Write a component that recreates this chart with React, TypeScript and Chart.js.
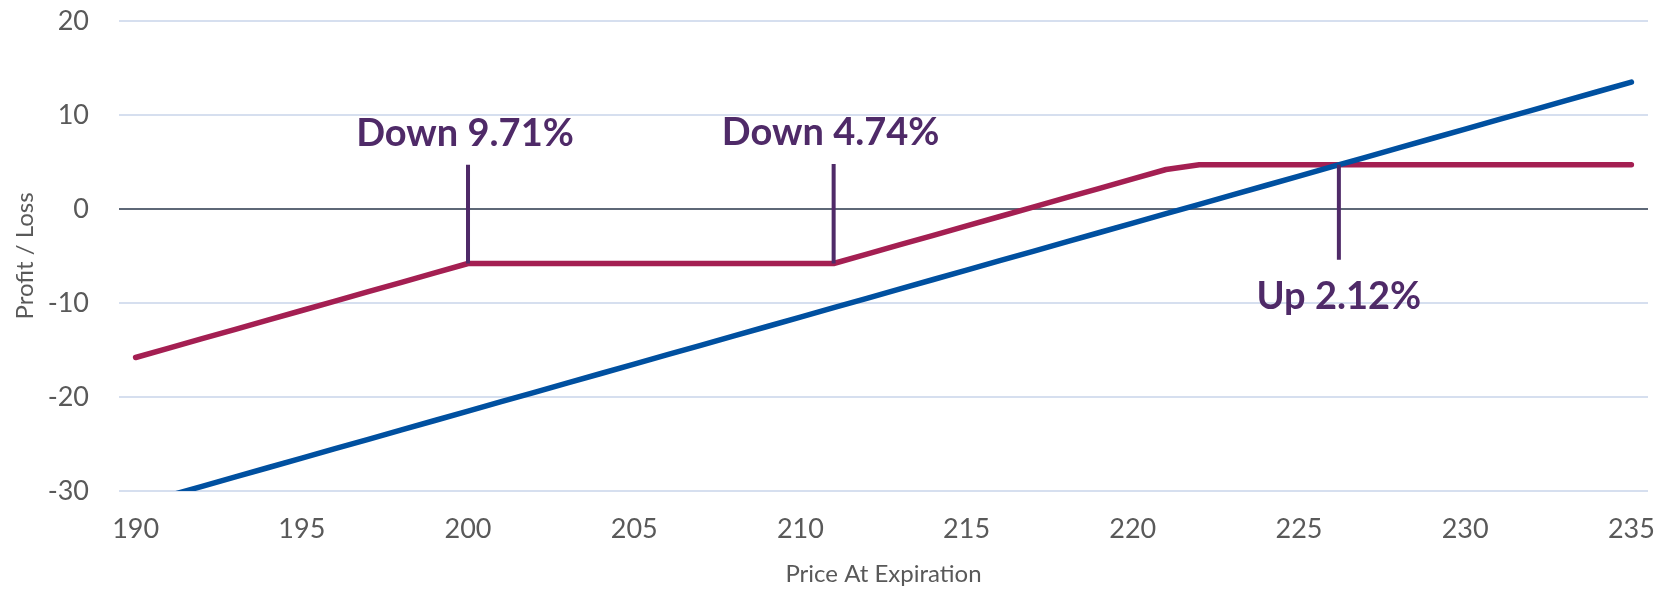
import React, { useEffect, useRef } from "react";
import { Chart, registerables } from "chart.js";

Chart.register(...registerables);

// Underlying price at expiration
const PRICES = [
  190, 191, 192, 193, 194, 195, 196, 197, 198, 199,
  200, 201, 202, 203, 204, 205, 206, 207, 208, 209,
  210, 211, 212, 213, 214, 215, 216, 217, 218, 219,
  220, 221, 222, 223, 224, 225, 226, 227, 228, 229,
  230, 231, 232, 233, 234, 235,
];

// Profit / loss of holding the stock outright
const STOCK_PL = [
  -31.5, -30.5, -29.5, -28.5, -27.5, -26.5, -25.5, -24.5, -23.5, -22.5,
  -21.5, -20.5, -19.5, -18.5, -17.5, -16.5, -15.5, -14.5, -13.5, -12.5,
  -11.5, -10.5, -9.5, -8.5, -7.5, -6.5, -5.5, -4.5, -3.5, -2.5,
  -1.5, -0.5, 0.5, 1.5, 2.5, 3.5, 4.5, 5.5, 6.5, 7.5,
  8.5, 9.5, 10.5, 11.5, 12.5, 13.5,
];

// Profit / loss of the hedged position
const HEDGED_PL = [
  -15.8, -14.8, -13.8, -12.8, -11.8, -10.8, -9.8, -8.8, -7.8, -6.8,
  -5.8, -5.8, -5.8, -5.8, -5.8, -5.8, -5.8, -5.8, -5.8, -5.8,
  -5.8, -5.8, -4.8, -3.8, -2.8, -1.8, -0.8, 0.2, 1.2, 2.2,
  3.2, 4.2, 4.7, 4.7, 4.7, 4.7, 4.7, 4.7, 4.7, 4.7,
  4.7, 4.7, 4.7, 4.7, 4.7, 4.7,
];

const X_TICKS = [190, 195, 200, 205, 210, 215, 220, 225, 230, 235];
const Y_MIN = -30;
const Y_MAX = 20;
const Y_STEP = 10;

// Break-even / strike markers
const MARKER_PRICES = [200, 211, 226.2];
const MARKER_TOPS = [4.7, 4.8, 4.7];
const MARKER_BOTTOMS = [-5.8, -5.8, -5.4];
const MARKER_LABELS = ["Down 9.71%", "Down 4.74%", "Up 2.12%"];
const MARKER_LABEL_ABOVE = [true, true, false];

const X_TITLE = "Price At Expiration";
const Y_TITLE = "Profit / Loss";

const FONT = "Lato, Carlito, Calibri, sans-serif";
const TEXT_GREY = "#595959";
const MARKER_PURPLE = "#4F2A68";
const HEDGED_RED = "#A41F52";
const STOCK_BLUE = "#0050A0";

const markerLabels = {
  id: "markerLabels",
  afterDatasetsDraw(chart: any) {
    const { ctx, scales } = chart;
    const xs = scales.x;
    const ys = scales.y;
    ctx.save();
    ctx.font = `bold 38px ${FONT}`;
    ctx.fillStyle = MARKER_PURPLE;
    ctx.textAlign = "center";
    ctx.textBaseline = "alphabetic";
    MARKER_LABELS.forEach((label, i) => {
      const px = xs.getPixelForValue(MARKER_PRICES[i]);
      if (MARKER_LABEL_ABOVE[i]) {
        const top = ys.getPixelForValue(MARKER_TOPS[i]);
        ctx.fillText(label, px - 3, top - 19);
      } else {
        const bottom = ys.getPixelForValue(MARKER_BOTTOMS[i]);
        ctx.fillText(label, px, bottom + 49);
      }
    });
    ctx.restore();
  },
};

export default function App() {
  const canvasRef = useRef<HTMLCanvasElement | null>(null);

  useEffect(() => {
    const canvas = canvasRef.current;
    if (!canvas) return;

    const markerSets = MARKER_PRICES.map((x, i) => ({
      label: MARKER_LABELS[i],
      data: [
        { x, y: MARKER_TOPS[i] },
        { x, y: MARKER_BOTTOMS[i] },
      ],
      borderColor: MARKER_PURPLE,
      borderWidth: 4,
      borderCapStyle: "butt" as const,
      pointRadius: 0,
    }));

    const chart = new Chart(canvas, {
      type: "line",
      data: {
        datasets: [
          ...markerSets,
          {
            label: "Stock",
            data: PRICES.map((x, i) => ({ x, y: STOCK_PL[i] })),
            borderColor: STOCK_BLUE,
            borderWidth: 5.5,
            borderCapStyle: "round",
            borderJoinStyle: "round",
            pointRadius: 0,
            clip: 0,
          },
          {
            label: "Hedged",
            data: PRICES.map((x, i) => ({ x, y: HEDGED_PL[i] })),
            borderColor: HEDGED_RED,
            borderWidth: 5.5,
            borderCapStyle: "round",
            borderJoinStyle: "round",
            pointRadius: 0,
          },
        ],
      },
      options: {
        animation: false,
        responsive: false,
        events: [],
        layout: { padding: { top: 21, right: 18, left: 0, bottom: 0 } },
        plugins: {
          legend: { display: false },
          tooltip: { enabled: false },
        },
        scales: {
          x: {
            type: "linear",
            min: PRICES[0] - 0.5,
            max: PRICES[PRICES.length - 1] + 0.5,
            afterBuildTicks: (scale: any) => {
              scale.ticks = X_TICKS.map((value) => ({ value }));
            },
            afterFit: (scale: any) => {
              scale.height = 99;
              scale.paddingLeft = 0;
              scale.paddingRight = 0;
            },
            grid: { display: false, drawTicks: false },
            border: { display: false },
            ticks: {
              autoSkip: false,
              maxRotation: 0,
              padding: 22,
              color: TEXT_GREY,
              font: { family: FONT, size: 27 },
            },
            title: {
              display: true,
              text: X_TITLE,
              color: TEXT_GREY,
              font: { family: FONT, size: 24 },
              padding: { top: 0, bottom: 1 },
            },
          },
          y: {
            type: "linear",
            min: Y_MIN,
            max: Y_MAX,
            afterFit: (scale: any) => {
              scale.width = 119;
              scale.paddingTop = 0;
              scale.paddingBottom = 0;
            },
            grid: {
              drawTicks: false,
              color: (c: any) => (c.tick && c.tick.value === 0 ? "#5E6877" : "#D6DFEF"),
              lineWidth: 2,
            },
            border: { display: false },
            ticks: {
              stepSize: Y_STEP,
              padding: 30,
              color: TEXT_GREY,
              font: { family: FONT, size: 27 },
            },
            title: {
              display: true,
              text: Y_TITLE,
              color: TEXT_GREY,
              font: { family: FONT, size: 24 },
              padding: { top: 11, bottom: 0 },
            },
          },
        },
      },
      plugins: [markerLabels],
    });

    return () => chart.destroy();
  }, []);

  return (
    <div style={{ position: "absolute", left: 0, top: 0, width: 1666, height: 590, background: "#fff" }}>
      <canvas ref={canvasRef} width={1666} height={590} />
    </div>
  );
}
